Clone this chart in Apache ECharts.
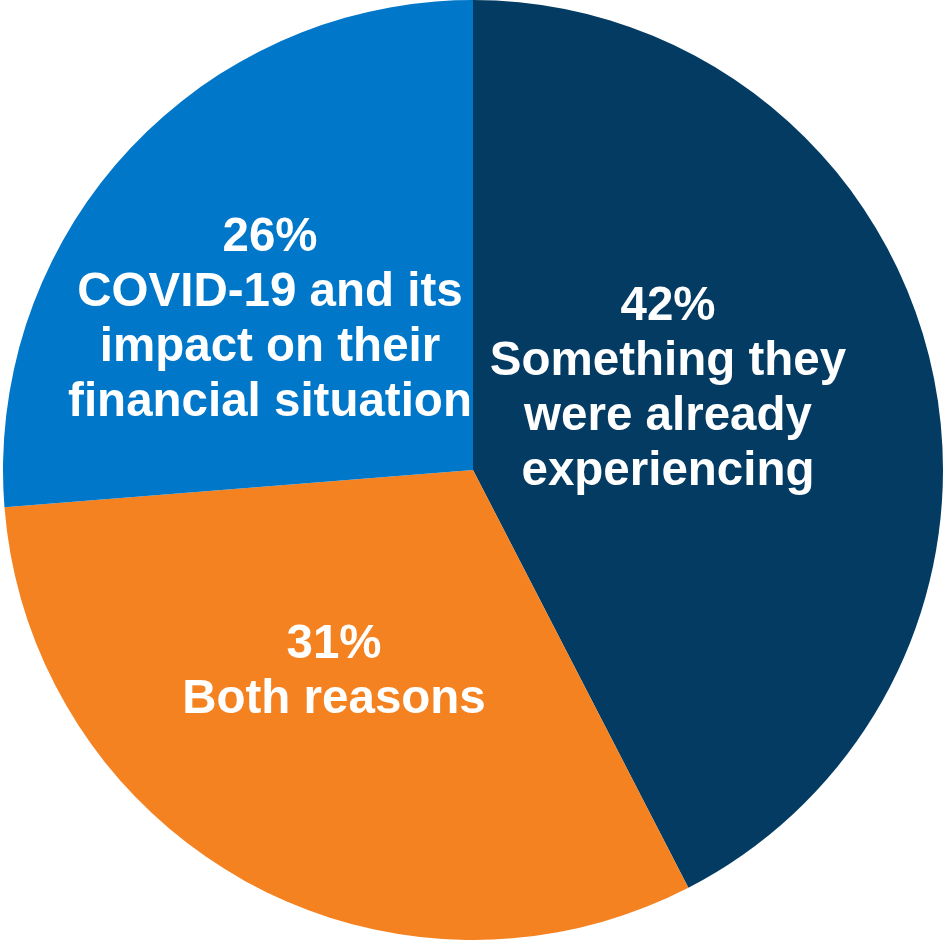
<!DOCTYPE html>
<html>
<head>
<meta charset="utf-8">
<style>
  html, body { margin: 0; padding: 0; background: #ffffff; }
  #chart { width: 945px; height: 940px; }
</style>
<script src="https://cdn.jsdelivr.net/npm/echarts@6/dist/echarts.min.js"></script>
</head>
<body>
<div id="chart"></div>
<script>
// Reasons given, share of respondents (%)
const categories = [
  'Something they\nwere already\nexperiencing',
  'Both reasons',
  'COVID-19 and its\nimpact on their\nfinancial situation'
];
const values = [42, 31, 26];
const colors = ['#033b62', '#f58220', '#0077c8'];

// label block centres for each slice, in pixels
const labelCenters = [[668, 389], [334, 672], [270, 320]];

const chart = echarts.init(document.getElementById('chart'), null, { renderer: 'canvas' });

chart.setOption({
  backgroundColor: '#ffffff',
  animation: false,
  series: [{
    type: 'pie',
    center: [473, 470],
    radius: [0, 470],
    startAngle: 90,
    clockwise: true,
    avoidLabelOverlap: false,
    data: categories.map((name, i) => ({
      name: name,
      value: values[i],
      itemStyle: { color: colors[i] }
    })),
    itemStyle: { borderWidth: 0 },
    label: {
      show: true,
      position: 'inside',
      formatter: p => p.value + '%\n' + p.name,
      color: '#ffffff',
      fontFamily: '"Liberation Sans", Arial, sans-serif',
      fontWeight: 'bold',
      fontSize: 47.5,
      lineHeight: 55,
      align: 'center',
      verticalAlign: 'middle'
    },
    labelLine: { show: false },
    emphasis: { disabled: true },
    labelLayout: function (params) {
      const c = labelCenters[params.dataIndex];
      return { x: c[0], y: c[1], align: 'center', verticalAlign: 'middle' };
    }
  }]
});
</script>
</body>
</html>
